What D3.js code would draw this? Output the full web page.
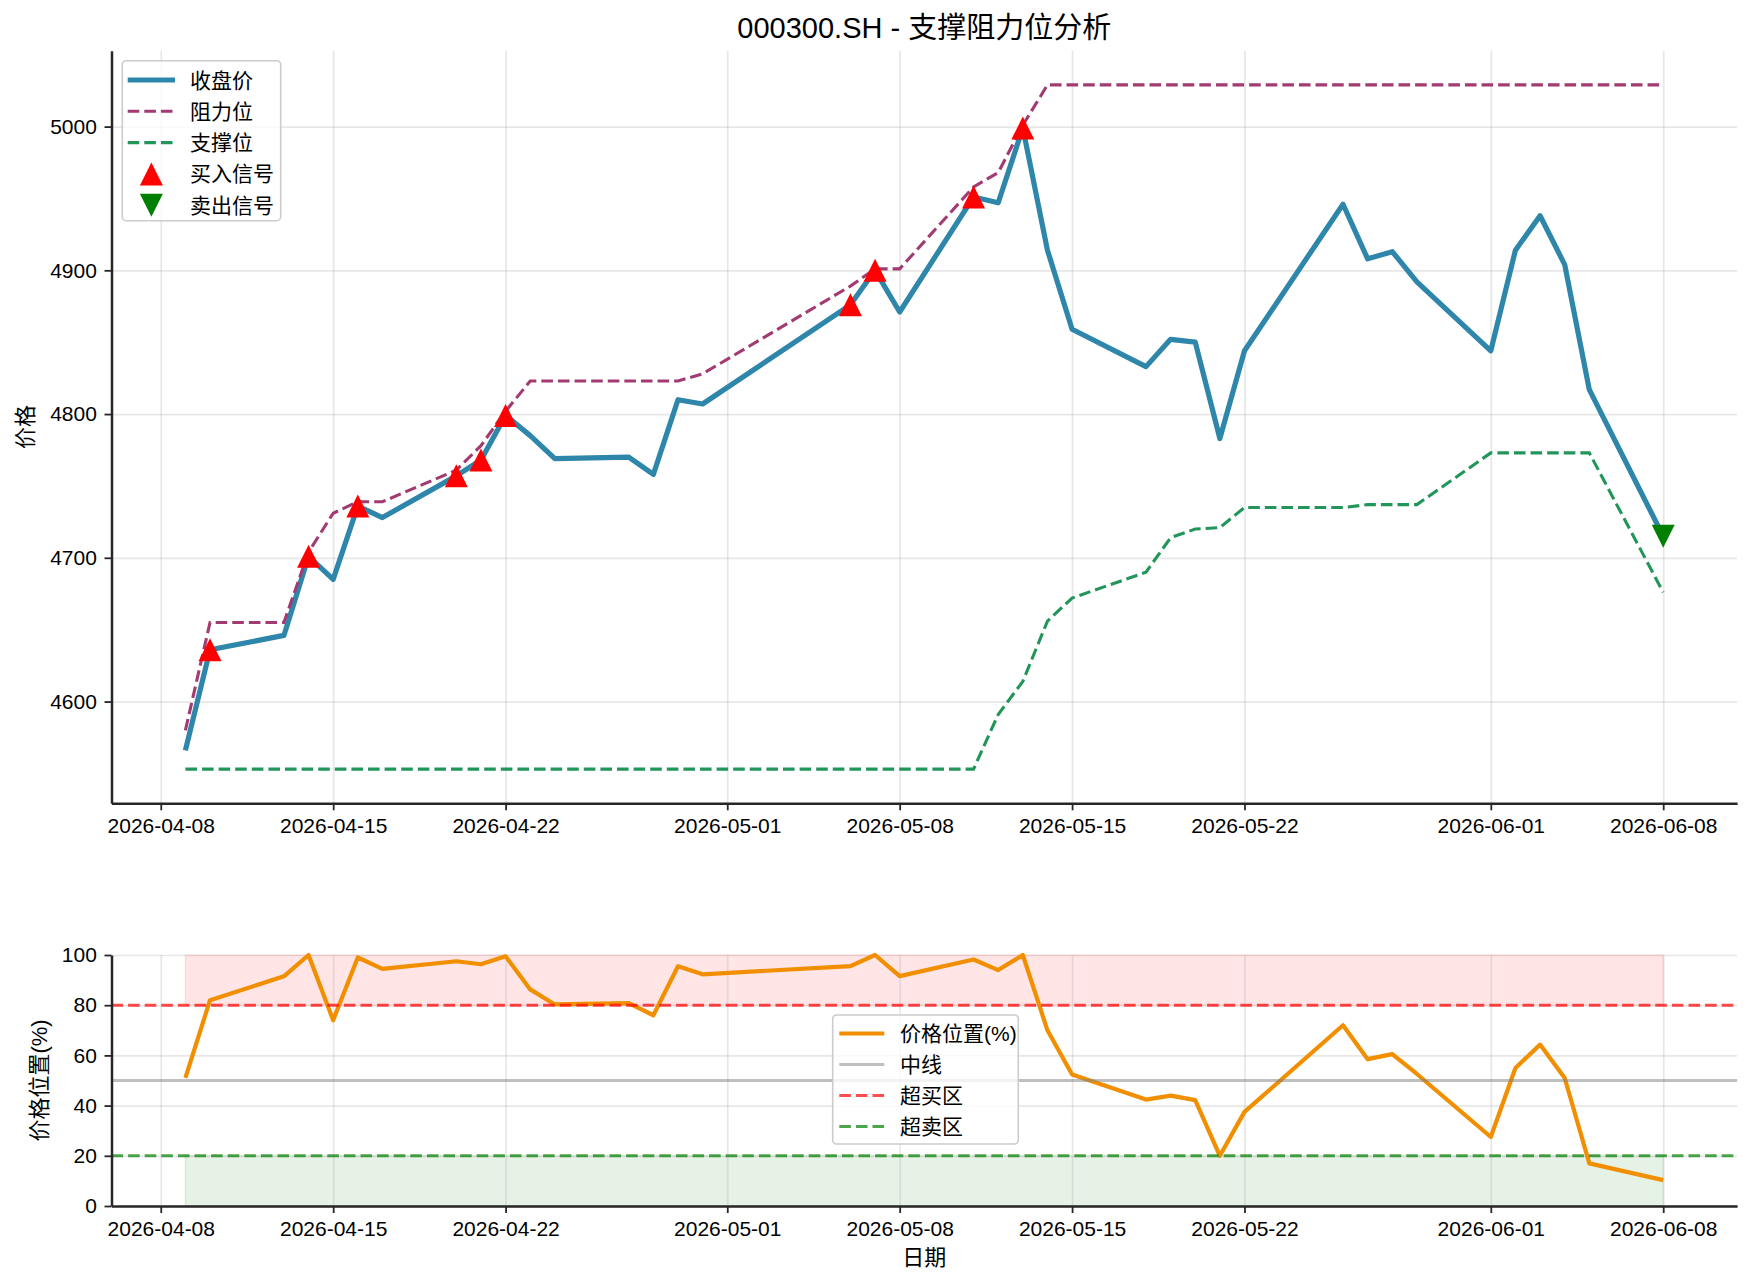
<!DOCTYPE html>
<html>
<head>
<meta charset="utf-8">
<script src="https://cdn.jsdelivr.net/npm/d3@7"></script>
<style>
	body { margin: 0; background: #ffffff; }
	svg { display: block; font-family: "Liberation Sans", "Noto Sans CJK SC", sans-serif; }
</style>
</head>
<body>
<svg id="chart"></svg>
<script>
'use strict';

// trading days shown in the chart
var dates = [
	"2026-04-09", "2026-04-10", "2026-04-13", "2026-04-14", "2026-04-15", "2026-04-16", "2026-04-17",
	"2026-04-20", "2026-04-21", "2026-04-22", "2026-04-23", "2026-04-24", "2026-04-27", "2026-04-28",
	"2026-04-29", "2026-04-30", "2026-05-06", "2026-05-07", "2026-05-08", "2026-05-11", "2026-05-12",
	"2026-05-13", "2026-05-14", "2026-05-15", "2026-05-18", "2026-05-19", "2026-05-20", "2026-05-21",
	"2026-05-22", "2026-05-26", "2026-05-27", "2026-05-28", "2026-05-29", "2026-06-01", "2026-06-02",
	"2026-06-03", "2026-06-04", "2026-06-05", "2026-06-08"
];

// 收盘价
var closePrices = [
	4566, 4636, 4646, 4701, 4685, 4736, 4728,
	4757, 4768, 4799, 4785, 4769, 4770, 4758,
	4810, 4807, 4876, 4900, 4871, 4951, 4947,
	4999, 4914, 4859, 4833, 4852, 4850, 4783,
	4844, 4946, 4908, 4913, 4892, 4844, 4914,
	4938, 4904, 4817, 4715
];

// 阻力位
var resistance = [
	4580, 4655, 4655, 4704, 4731, 4739, 4739,
	4761, 4778, 4802, 4823, 4823, 4823, 4823,
	4823, 4828, 4889, 4901, 4901, 4958, 4968,
	5001, 5029, 5029, 5029, 5029, 5029, 5029,
	5029, 5029, 5029, 5029, 5029, 5029, 5029,
	5029, 5029, 5029, 5029
];

// 支撑位
var support = [
	4553, 4553, 4553, 4553, 4553, 4553, 4553,
	4553, 4553, 4553, 4553, 4553, 4553, 4553,
	4553, 4553, 4553, 4553, 4553, 4553, 4591,
	4614, 4656, 4672, 4690, 4714, 4720, 4721,
	4735, 4735, 4737, 4737, 4737, 4773, 4773,
	4773, 4773, 4773, 4676
];

// 价格位置(%)
var pricePosition = [
	51, 82, 91.5, 100, 74, 99, 94.5,
	97.5, 96.3, 99.5, 86.3, 80.3, 80.8, 76,
	95.5, 92.3, 95.6, 100, 91.6, 98.2, 94,
	100, 70, 52.4, 42.4, 44, 42.2, 20,
	37.5, 72, 58.5, 60.5, 52.6, 27.5, 55,
	64.3, 51, 17, 10.3
];

var buyDates = ["2026-04-10", "2026-04-14", "2026-04-16", "2026-04-20", "2026-04-21",
	"2026-04-22", "2026-05-06", "2026-05-07", "2026-05-11", "2026-05-13"];
var sellDates = ["2026-06-08"];

var xTickLabels = ["2026-04-08", "2026-04-15", "2026-04-22", "2026-05-01", "2026-05-08",
	"2026-05-15", "2026-05-22", "2026-06-01", "2026-06-08"];
var priceTicks = [4600, 4700, 4800, 4900, 5000];
var positionTicks = [0, 20, 40, 60, 80, 100];

var overbought = 80, oversold = 20, midLine = 50;

var topLegend = ["收盘价", "阻力位", "支撑位", "买入信号", "卖出信号"];
var bottomLegend = ["价格位置(%)", "中线", "超买区", "超卖区"];

// colours
var cClose = "#2E86AB", cRes = "#A23B72", cSup = "#22965A", cPos = "#F18F01";

/**
 * Draw helper: whole figure (price panel + position panel).
 */
var draw = function(svg, width, height) {
	svg.attr('width', width).attr('height', height);

	var parse = d3.utcParse("%Y-%m-%d");
	var days = dates.map(parse);
	var xTicks = xTickLabels.map(parse);

	// panel geometry
	var left = 111.5, right = 1737.1;
	var top1 = 50.7, bottom1 = 803.3;
	var top2 = 955, bottom2 = 1206;
	var fontSize = 21;
	var spineColor = "#262626";

	// x scale with 5% margin like matplotlib
	var ext = d3.extent(days);
	var pad = (ext[1] - ext[0]) * 0.05;
	var xScale = d3.scaleUtc()
		.domain([new Date(+ext[0] - pad), new Date(+ext[1] + pad)])
		.range([left, right]);

	var pext = d3.extent(closePrices.concat(resistance, support));
	var ppad = (pext[1] - pext[0]) * 0.05;
	var yPrice = d3.scaleLinear()
		.domain([pext[0] - ppad, pext[1] + ppad])
		.range([bottom1, top1]);

	var yPos = d3.scaleLinear().domain([0, 100]).range([bottom2, top2]);

	// --------------grids----------------
	var grid = function(yScale, yTicks, top, bottom) {
		var g = svg.append('g').attr('class', 'grid');
		g.append('g')
			.attr('transform', 'translate(0,' + bottom + ')')
			.call(d3.axisBottom(xScale).tickValues(xTicks).tickSize(-(bottom - top)).tickFormat(''));
		g.append('g')
			.attr('transform', 'translate(' + left + ',0)')
			.call(d3.axisLeft(yScale).tickValues(yTicks).tickSize(-(right - left)).tickFormat(''));
		g.selectAll('.domain').remove();
		g.selectAll('line')
			.attr('stroke', '#b0b0b0')
			.attr('stroke-opacity', 0.3)
			.attr('stroke-width', 1.7);
	};

	// --------------axes----------------
	var axes = function(yScale, yTicks, bottom) {
		var xa = svg.append('g')
			.attr('transform', 'translate(0,' + bottom + ')')
			.call(d3.axisBottom(xScale)
				.tickValues(xTicks)
				.tickFormat(d3.utcFormat("%Y-%m-%d"))
				.tickSize(7).tickSizeOuter(0).tickPadding(8));
		var ya = svg.append('g')
			.attr('transform', 'translate(' + left + ',0)')
			.call(d3.axisLeft(yScale)
				.tickValues(yTicks)
				.tickFormat(d3.format("d"))
				.tickSize(7).tickSizeOuter(0).tickPadding(7.6));
		[xa, ya].forEach(function(a) {
			a.attr('font-family', null).attr('font-size', fontSize);
			a.select('.domain').attr('stroke', spineColor).attr('stroke-width', 2.5);
			a.selectAll('.tick line').attr('stroke', spineColor).attr('stroke-width', 1.8);
			a.selectAll('.tick text').attr('fill', '#000');
		});
	};

	// legend helper
	var legend = function(x0, y0, w, h, rowY, rowH, textX, items) {
		var g = svg.append('g').attr('class', 'legend');
		g.append('rect')
			.attr('x', x0).attr('y', y0).attr('width', w).attr('height', h)
			.attr('rx', 4)
			.attr('fill', '#fff').attr('fill-opacity', 0.8)
			.attr('stroke', '#cccccc').attr('stroke-width', 1.6);
		items.forEach(function(it, i) {
			var cy = rowY + i * rowH;
			it.handle(g, cy);
			g.append('text')
				.attr('x', textX).attr('y', cy)
				.attr('dominant-baseline', 'central')
				.attr('font-size', fontSize)
				.text(it.label);
		});
	};

	// matplotlib-like triangle markers
	var triUp = { draw: function(ctx, size) { var h = Math.sqrt(size) / 2; ctx.moveTo(0, -h); ctx.lineTo(h, h); ctx.lineTo(-h, h); ctx.closePath(); } };
	var triDown = { draw: function(ctx, size) { var h = Math.sqrt(size) / 2; ctx.moveTo(0, h); ctx.lineTo(h, -h); ctx.lineTo(-h, -h); ctx.closePath(); } };
	var markerSize = 23 * 23;

	// ================= price panel =================
	grid(yPrice, priceTicks, top1, bottom1);

	var priceLine = function(values) {
		return d3.line()
			.x(function(d, i) { return xScale(days[i]); })
			.y(function(d) { return yPrice(d); })(values);
	};

	svg.append('path').attr('d', priceLine(closePrices))
		.attr('fill', 'none').attr('stroke', cClose).attr('stroke-width', 5.2)
		.attr('stroke-linejoin', 'round');
	svg.append('path').attr('d', priceLine(resistance))
		.attr('fill', 'none').attr('stroke', cRes).attr('stroke-width', 3.1)
		.attr('stroke-dasharray', '11.6,5');
	svg.append('path').attr('d', priceLine(support))
		.attr('fill', 'none').attr('stroke', cSup).attr('stroke-width', 3.1)
		.attr('stroke-dasharray', '11.6,5');

	var closeOn = function(ds) {
		var i = dates.indexOf(ds);
		return { x: xScale(days[i]), y: yPrice(closePrices[i]) };
	};

	svg.append('g').selectAll('path').data(buyDates.map(closeOn)).enter()
		.append('path')
		.attr('d', d3.symbol().type(triUp).size(markerSize))
		.attr('transform', function(d) { return 'translate(' + d.x + ',' + d.y + ')'; })
		.attr('fill', 'red');
	svg.append('g').selectAll('path').data(sellDates.map(closeOn)).enter()
		.append('path')
		.attr('d', d3.symbol().type(triDown).size(markerSize))
		.attr('transform', function(d) { return 'translate(' + d.x + ',' + d.y + ')'; })
		.attr('fill', 'green');

	axes(yPrice, priceTicks, bottom1);

	var hx0 = 127.7, hx1 = 175;
	var lineHandle = function(color, w, dash) {
		return function(g, cy) {
			g.append('line').attr('x1', hx0).attr('x2', hx1).attr('y1', cy).attr('y2', cy)
				.attr('stroke', color).attr('stroke-width', w).attr('stroke-dasharray', dash || null);
		};
	};
	var markHandle = function(type, color) {
		return function(g, cy) {
			g.append('path').attr('d', d3.symbol().type(type).size(markerSize))
				.attr('transform', 'translate(' + ((hx0 + hx1) / 2) + ',' + cy + ')')
				.attr('fill', color);
		};
	};
	legend(122.3, 60.7, 158.4, 160, 80, 31.3, 190, [
		{ label: topLegend[0], handle: lineHandle(cClose, 5.2) },
		{ label: topLegend[1], handle: lineHandle(cRes, 3.1, '11.6,5') },
		{ label: topLegend[2], handle: lineHandle(cSup, 3.1, '11.6,5') },
		{ label: topLegend[3], handle: markHandle(triUp, 'red') },
		{ label: topLegend[4], handle: markHandle(triDown, 'green') }
	]);

	svg.append('text')
		.attr('x', (left + right) / 2).attr('y', 37.5)
		.attr('text-anchor', 'middle').attr('font-size', 29)
		.text("000300.SH - 支撑阻力位分析");
	svg.append('text')
		.attr('transform', 'translate(25.8,' + ((top1 + bottom1) / 2) + ') rotate(-90)')
		.attr('text-anchor', 'middle').attr('dominant-baseline', 'central')
		.attr('font-size', 22)
		.text("价格");

	// ================= position panel =================
	var zone = function(lo, hi, color) {
		svg.append('path')
			.attr('d', d3.area()
				.x(function(d) { return xScale(d); })
				.y0(yPos(lo)).y1(yPos(hi))([days[0], days[days.length - 1]]))
			.attr('fill', color).attr('fill-opacity', 0.1)
			.attr('stroke', color).attr('stroke-opacity', 0.1).attr('stroke-width', 1.5);
	};
	zone(overbought, 100, 'red');
	zone(0, oversold, 'green');

	grid(yPos, positionTicks, top2, bottom2);

	var hline = function(v, color, opacity, w, dash) {
		svg.append('line')
			.attr('x1', left).attr('x2', right).attr('y1', yPos(v)).attr('y2', yPos(v))
			.attr('stroke', color).attr('stroke-opacity', opacity).attr('stroke-width', w)
			.attr('stroke-dasharray', dash || null);
	};

	svg.append('path')
		.attr('d', d3.line()
			.x(function(d, i) { return xScale(days[i]); })
			.y(function(d) { return yPos(d); })(pricePosition))
		.attr('fill', 'none').attr('stroke', cPos).attr('stroke-width', 4.2)
		.attr('stroke-linejoin', 'round');

	hline(midLine, 'gray', 0.5, 3);
	hline(overbought, 'red', 0.7, 3.1, '11.6,5');
	hline(oversold, 'green', 0.7, 3.1, '11.6,5');

	axes(yPos, positionTicks, bottom2);

	var bx0 = 839.3, bx1 = 884.3;
	var lh = function(color, opacity, w, dash) {
		return function(g, cy) {
			g.append('line').attr('x1', bx0).attr('x2', bx1).attr('y1', cy).attr('y2', cy)
				.attr('stroke', color).attr('stroke-opacity', opacity).attr('stroke-width', w)
				.attr('stroke-dasharray', dash || null);
		};
	};
	legend(832.7, 1015, 185.6, 129, 1033.5, 31, 900, [
		{ label: bottomLegend[0], handle: lh(cPos, 1, 4.2) },
		{ label: bottomLegend[1], handle: lh('gray', 0.5, 3) },
		{ label: bottomLegend[2], handle: lh('red', 0.7, 3.1, '11.6,5') },
		{ label: bottomLegend[3], handle: lh('green', 0.7, 3.1, '11.6,5') }
	]);

	svg.append('text')
		.attr('transform', 'translate(39.3,' + ((top2 + bottom2) / 2) + ') rotate(-90)')
		.attr('text-anchor', 'middle').attr('dominant-baseline', 'central')
		.attr('font-size', 22)
		.text("价格位置(%)");
	svg.append('text')
		.attr('x', (left + right) / 2).attr('y', 1257)
		.attr('text-anchor', 'middle').attr('dominant-baseline', 'central')
		.attr('font-size', 22)
		.text("日期");
};

draw(d3.select('#chart'), 1754, 1284);
</script>
</body>
</html>
